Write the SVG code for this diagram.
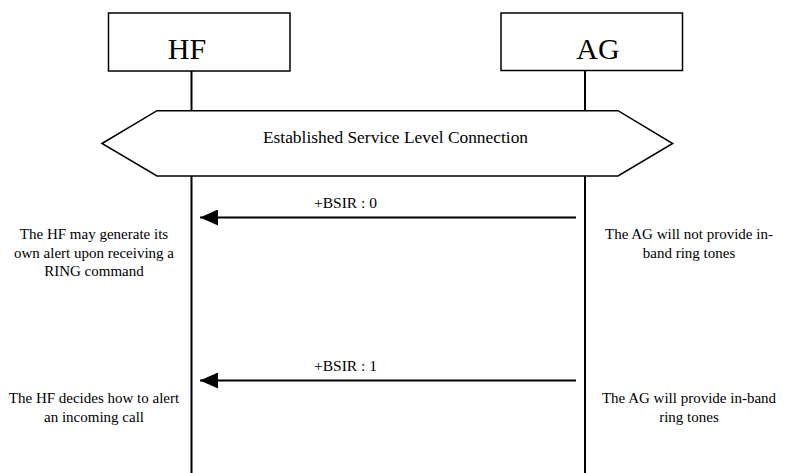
<svg xmlns="http://www.w3.org/2000/svg" width="803" height="473" viewBox="0 0 803 473">
<defs>
<style>
.box{fill:#fff;stroke:#000;stroke-width:1.5}
.life{stroke:#000;stroke-width:2;fill:none}
.msg{stroke:#000;stroke-width:2;fill:none}
.t{font-family:"Liberation Serif","Times New Roman",serif;fill:#000}
.big{font-size:30px;text-anchor:middle}
.lbl{font-size:15.5px;text-anchor:middle}
.note{font-size:15px;text-anchor:middle}
</style>
<marker id="ah" markerWidth="18" markerHeight="16" refX="18" refY="8" orient="auto" markerUnits="userSpaceOnUse">
<path d="M0,0 L18,8 L0,16 Z" fill="#000"/>
</marker>
</defs>
<rect width="803" height="473" fill="#fff"/>
<g id="lifelines">
<line class="life" x1="191.5" y1="71" x2="191.5" y2="111"/>
<line class="life" x1="191.5" y1="176" x2="191.5" y2="473"/>
<line class="life" x1="585" y1="70.5" x2="585" y2="111"/>
<line class="life" x1="585" y1="176" x2="585" y2="473"/>
</g>
<g id="node-hf">
<rect class="box" x="108.5" y="13" width="181.5" height="58"/>
<text class="t big" x="187" y="59">HF</text>
</g>
<g id="node-ag">
<rect class="box" x="501" y="13" width="181.5" height="57.5"/>
<text class="t big" x="598" y="59">AG</text>
</g>
<g id="node-slc">
<polygon class="box" points="102,143.5 157,110.7 618,110.7 672.7,143.5 618,176 157,176"/>
<text class="t" font-size="17.4" x="395.5" y="143" text-anchor="middle">Established Service Level Connection</text>
</g>
<g id="connectors">
<line class="msg" x1="576" y1="217.5" x2="200" y2="217.5" marker-end="url(#ah)"/>
<line class="msg" x1="576" y1="380.5" x2="200" y2="380.5" marker-end="url(#ah)"/>
<text class="t lbl" x="345.5" y="208">+BSIR : 0</text>
<text class="t lbl" x="345.5" y="371">+BSIR : 1</text>
</g>
<g id="note-hf-1">
<text class="t note" x="94" y="239">The HF may generate its</text>
<text class="t note" x="94" y="257.5">own alert upon receiving a</text>
<text class="t note" x="94" y="276">RING command</text>
</g>
<g id="note-hf-2">
<text class="t note" x="94" y="403">The HF decides how to alert</text>
<text class="t note" x="94" y="421.5">an incoming call</text>
</g>
<g id="note-ag-1">
<text class="t note" x="689" y="239">The AG will not provide in-</text>
<text class="t note" x="689" y="257.5">band ring tones</text>
</g>
<g id="note-ag-2">
<text class="t note" x="689" y="403">The AG will provide in-band</text>
<text class="t note" x="689" y="421.5">ring tones</text>
</g>
</svg>
